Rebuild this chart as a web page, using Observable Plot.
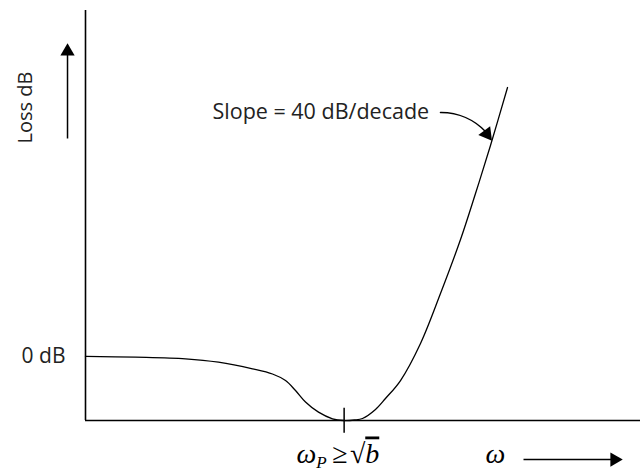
<!DOCTYPE html>
<html><head><meta charset="utf-8">
<script src="https://cdn.jsdelivr.net/npm/d3@7"></script>
<script src="https://cdn.jsdelivr.net/npm/@observablehq/plot@0.6"></script>
<style>body{margin:0;background:#fff}</style>
</head><body><div id="chart"></div>
<script>
// Loss curve (arbitrary ω units, loss in "dB" units relative to 0 dB level)
const omega  = [0.000, 0.901, 1.802, 2.396, 3.009, 3.369, 3.604, 3.784, 3.964, 4.198, 4.450, 4.649, 4.847, 4.991, 5.225, 5.405, 5.676, 6.036, 6.396, 6.757, 7.027, 7.297, 7.604];
const lossDb = [0.000, -0.012, -0.037, -0.090, -0.193, -0.274, -0.376, -0.532, -0.711, -0.870, -0.973, -1.000, -0.992, -0.969, -0.828, -0.657, -0.376, 0.202, 0.982, 1.825, 2.543, 3.293, 4.198];
const yTicks = [0];
const yTickLabels = ["0 dB"];
const passbandEdge = [4.66];
const yLabel = ["Loss dB"];
const slopeLabel = ["Slope = 40 dB/decade"];
const xLabel = ["ω"];
const edgeLabel = ["ωP ≥ √b"];

const sans = "'Open Sans', sans-serif";
const serif = "'Liberation Serif', 'Times New Roman', serif";

const svg = Plot.plot({
  width: 640,
  height: 474,
  marginLeft: 85,
  marginRight: 0,
  marginTop: 10,
  marginBottom: 54,
  x: {domain: [0, 10], axis: null},
  y: {domain: [-1, 5.4], axis: null},
  style: {fontFamily: sans, color: "#222", background: "#fff"},
  marks: [
    Plot.ruleX([0], {stroke: "#000", strokeWidth: 1.6}),
    Plot.ruleY([-1], {stroke: "#000", strokeWidth: 1.6}),
    Plot.axisY({ticks: yTicks, tickFormat: d => yTickLabels[yTicks.indexOf(d)], tickSize: 0, tickPadding: 20, fontSize: 21, label: null, fill: "#222"}),
    Plot.line(omega, {x: omega, y: lossDb, curve: "catmull-rom", stroke: "#000", strokeWidth: 1.3}),
    Plot.ruleX(passbandEdge, {y1: -1.2, y2: -0.81, stroke: "#000", strokeWidth: 1.5}),
    // y label and arrow
    Plot.text(yLabel, {x: () => -1.081, y: () => 3.886, rotate: -90, fontSize: 20, fill: "#222", fontFamily: sans}),
    Plot.link(yLabel, {x1: () => -0.324, y1: () => 3.402, x2: () => -0.324, y2: () => 4.744, stroke: "#000", strokeWidth: 1.5}),
    Plot.dot(yLabel, {x: () => -0.324, y: () => 4.76, symbol: "triangle", r: 5.3, fill: "#000", stroke: "none", rotate: 0}),
    // slope annotation
    Plot.text(slopeLabel, {x: () => 2.288, y: () => 3.808, textAnchor: "start", fontSize: 21.5, fill: "#222", fontFamily: sans}),
    Plot.arrow(slopeLabel, {x1: () => 6.396, y1: () => 3.808, x2: () => 7.225, y2: () => 3.496, bend: 24, headLength: 0, stroke: "#000", strokeWidth: 1.5}),
    Plot.dot(slopeLabel, {x: () => 7.231, y: () => 3.472, symbol: "triangle", r: 5.5, fill: "#000", stroke: "none", rotate: 143}),
    // x labels
    Plot.text(edgeLabel, {x: () => 3.80, y: () => -1.671, textAnchor: "start", lineAnchor: "bottom", fontSize: 28, fill: "#000", fontFamily: serif}),
    Plot.text(xLabel, {x: () => 7.207, y: () => -1.671, textAnchor: "start", lineAnchor: "bottom", fontSize: 28, fontStyle: "italic", fill: "#000", fontFamily: serif}),
    Plot.link(xLabel, {x1: () => 7.892, y1: () => -1.609, x2: () => 9.50, y2: () => -1.609, stroke: "#000", strokeWidth: 1.5}),
    Plot.dot(xLabel, {x: () => 9.532, y: () => -1.609, symbol: "triangle", r: 5.3, fill: "#000", stroke: "none", rotate: 90})
  ]
});

// Build the math label ωP ≥ √b with subscript and radical bar
d3.select(svg).selectAll("text").filter(function() { return this.textContent === edgeLabel[0]; }).each(function() {
  const t = d3.select(this);
  t.text(null);
  t.append("tspan").attr("font-style", "italic").text("ω");
  t.append("tspan").attr("font-style", "italic").attr("font-size", "17px").attr("dy", "5").text("P");
  t.append("tspan").attr("dy", "-5").text("\u2009≥\u200A");
  t.append("tspan").text("√");
  t.append("tspan").attr("font-style", "italic").attr("text-decoration", "overline").text("b");
});

document.getElementById("chart").append(svg);
</script>
</body></html>
